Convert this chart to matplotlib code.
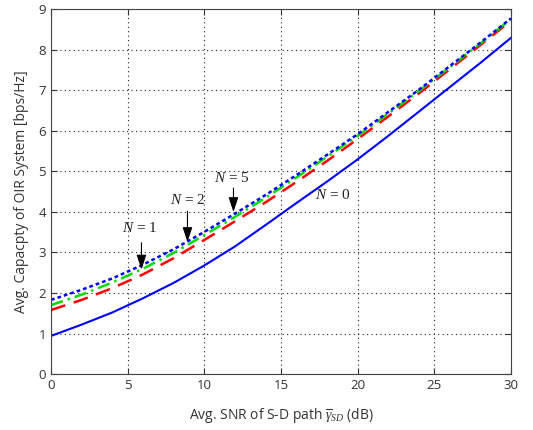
import matplotlib
matplotlib.use("Agg")
import matplotlib.pyplot as plt

snr_db = [0, 2, 4, 6, 8, 10, 12, 14, 16, 18, 20, 22, 24, 26, 28, 30]
cap_n0 = [0.94, 1.22, 1.52, 1.87, 2.25, 2.68, 3.15, 3.68, 4.22, 4.75, 5.30, 5.88, 6.48, 7.08, 7.68, 8.30]
cap_n1 = [1.58, 1.83, 2.12, 2.46, 2.86, 3.31, 3.77, 4.24, 4.74, 5.26, 5.80, 6.36, 6.93, 7.52, 8.12, 8.72]
cap_n2 = [1.70, 1.96, 2.26, 2.60, 2.99, 3.43, 3.88, 4.35, 4.85, 5.36, 5.88, 6.43, 6.99, 7.57, 8.16, 8.76]
cap_n5 = [1.83, 2.08, 2.36, 2.70, 3.08, 3.51, 3.96, 4.42, 4.91, 5.41, 5.92, 6.47, 7.02, 7.60, 8.18, 8.78]

x_ticks = [0, 5, 10, 15, 20, 25, 30]
y_ticks = [0, 1, 2, 3, 4, 5, 6, 7, 8, 9]

# annotation texts and anchor points (text baseline pos, arrow tail, arrow tip)
ann_labels = ["$N$ = 1", "$N$ = 2", "$N$ = 5"]
ann_text_xy = [(5.8, 3.50), (8.9, 4.19), (11.8, 4.73)]
ann_tail_xy = [(5.9, 3.24), (8.9, 4.02), (11.9, 4.59)]
ann_tip_xy = [(5.9, 2.58), (8.9, 3.26), (11.9, 4.0)]
n0_label = "$N$ = 0"
n0_xy = (18.4, 4.33)

plt.rcParams['mathtext.fontset'] = 'custom'
plt.rcParams['mathtext.it'] = 'Liberation Serif:italic'
plt.rcParams['mathtext.rm'] = 'Liberation Serif'
plt.rcParams['mathtext.bf'] = 'Liberation Serif:bold'

fig = plt.figure(figsize=(5.33, 4.30), dpi=100)
ax = fig.add_axes([0.0957, 0.1302, 0.8630, 0.8478])

ax.plot(snr_db, cap_n0, color='#0000ff', lw=1.5, ls='-')
ax.plot(snr_db, cap_n1, color='#ff0000', lw=1.8, ls=(0, (6, 3.5)))
ax.plot(snr_db, cap_n2, color='#00e000', lw=1.8, ls=(0, (5, 2, 1, 2)))
ax.plot(snr_db, cap_n5, color='#0000ff', lw=1.8, ls=(0, (1.5, 1.2)))

ax.set_xlim(0, 30)
ax.set_ylim(0, 9)
ax.set_xticks(x_ticks)
ax.set_yticks(y_ticks)
ax.grid(True, color='#222222', ls=(0, (1, 3)), lw=0.8)
ax.tick_params(direction='in', top=True, right=True, length=4, width=0.8,
               labelsize=9.5, labelcolor='#333333', color='#333333')
for s in ax.spines.values():
    s.set_color('#444444')
    s.set_linewidth(0.8)
for lab in ax.get_xticklabels() + ax.get_yticklabels():
    lab.set_family('Open Sans')

for lab, txy, tail, tip in zip(ann_labels, ann_text_xy, ann_tail_xy, ann_tip_xy):
    ax.text(txy[0], txy[1], lab, fontsize=11, ha='center', va='baseline', color='#222222',
            family='Liberation Serif')
    ax.annotate('', xy=tip, xytext=tail,
                arrowprops=dict(arrowstyle='-|>,head_width=0.3,head_length=0.9',
                                color='black', lw=0.8, shrinkA=0, shrinkB=0))
ax.text(n0_xy[0], n0_xy[1], n0_label, fontsize=11, ha='center', va='baseline', color='#222222',
        family='Liberation Serif')

ax.set_xlabel(r"Avg. SNR of S-D path $\overline{\mathit{\gamma}}_{\mathit{SD}}$ (dB)",
              fontsize=10, color='#333333', family='Open Sans', labelpad=10)
ax.set_ylabel("Avg. Capacpty of OIR System [bps/Hz]", fontsize=10, color='#333333',
              family='Open Sans', labelpad=7)

fig.savefig('out.png', dpi=100)
